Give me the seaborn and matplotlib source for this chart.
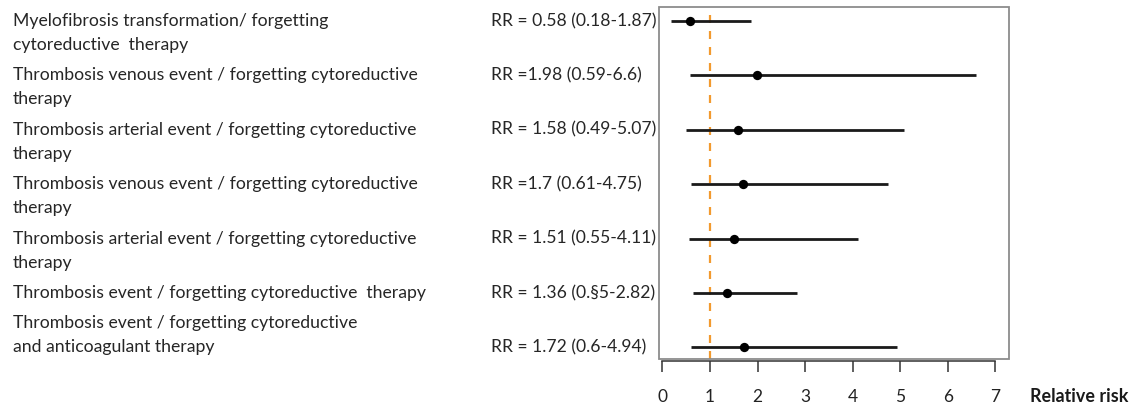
import matplotlib
matplotlib.use("Agg")
import matplotlib.pyplot as plt
import seaborn as sns
import pandas as pd
from matplotlib.patches import Rectangle

# ---------------- data ----------------
outcomes = [
    ["Myelofibrosis transformation/ forgetting", "cytoreductive  therapy"],
    ["Thrombosis venous event / forgetting cytoreductive", "therapy"],
    ["Thrombosis arterial event / forgetting cytoreductive", "therapy"],
    ["Thrombosis venous event / forgetting cytoreductive", "therapy"],
    ["Thrombosis arterial event / forgetting cytoreductive", "therapy"],
    ["Thrombosis event / forgetting cytoreductive  therapy"],
    ["Thrombosis event / forgetting cytoreductive", "and anticoagulant therapy"],
]
# which line of each label sits level with its row
anchor_line = [0, 0, 0, 0, 0, 0, 1]
rr_labels = [
    "RR = 0.58 (0.18-1.87)",
    "RR =1.98 (0.59-6.6)",
    "RR = 1.58 (0.49-5.07)",
    "RR =1.7 (0.61-4.75)",
    "RR = 1.51 (0.55-4.11)",
    "RR = 1.36 (0.\u00a75-2.82)",
    "RR = 1.72 (0.6-4.94)",
]
rr = [0.58, 1.98, 1.58, 1.70, 1.51, 1.36, 1.72]
ci_low = [0.18, 0.59, 0.49, 0.61, 0.55, 0.65, 0.60]
ci_high = [1.87, 6.60, 5.07, 4.75, 4.11, 2.82, 4.94]
x_ticks = [0, 1, 2, 3, 4, 5, 6, 7]
reference_value = 1
x_label = "Relative risk"

df = pd.DataFrame({"row": range(len(rr)), "rr": rr, "lo": ci_low, "hi": ci_high})

# ---------------- style ----------------
sns.set_theme(style="white")
plt.rcParams["font.family"] = ["Lato", "DejaVu Sans"]

W, H = 1133, 409
fig = plt.figure(figsize=(W / 100, H / 100), dpi=100)
ax = fig.add_axes([659 / W, 1 - 358.7 / H, (1009.3 - 659) / W, (358.7 - 6.7) / H])

# confidence intervals and point estimates
ax.hlines(df["row"], df["lo"], df["hi"], color="#1a1a1a", lw=2.0, zorder=3)
sns.scatterplot(data=df, x="rr", y="row", ax=ax, color="black", s=45,
                edgecolor="black", linewidth=0, zorder=4, legend=False)
ax.axvline(reference_value, color="#F29A2E", lw=1.6, ls=(0, (3.6, 3.6)), zorder=2,
           clip_on=False)

ax.set_xlim(-0.07, 7.29)
ax.set_ylim(6.21, -0.263)
ax.set_xlabel("")
ax.set_ylabel("")
ax.set_yticks([])
ax.set_xticks(x_ticks)
ax.set_xticklabels([str(t) for t in x_ticks])

# box frame
for s in ["top", "right", "left"]:
    ax.spines[s].set_visible(False)
ax.add_patch(Rectangle((0, 0), 1, 1, transform=ax.transAxes, fill=False,
                       edgecolor="#8c8c8c", lw=1.3, clip_on=False, zorder=5))
# R-style x axis
ax.spines["bottom"].set_visible(True)
ax.spines["bottom"].set_color("#333333")
ax.spines["bottom"].set_linewidth(1.1)
ax.spines["bottom"].set_position(("outward", 1.5))
ax.spines["bottom"].set_bounds(x_ticks[0], x_ticks[-1])
ax.tick_params(axis="x", direction="out", length=8, width=1.1, color="#333333",
               pad=12, labelsize=12.5, labelcolor="#222222", bottom=True)

# left labels
for i, lines in enumerate(outcomes):
    for k, line in enumerate(lines):
        ax.annotate(line, xy=(13 / W, i), xycoords=("figure fraction", "data"),
                    xytext=(0, -(k - anchor_line[i]) * 24), textcoords="offset pixels",
                    ha="left", va="center", fontsize=12.7, color="#262626",
                    annotation_clip=False)
    ax.annotate(rr_labels[i], xy=(491 / W, i), xycoords=("figure fraction", "data"),
                ha="left", va="center", fontsize=12.6, color="#262626",
                annotation_clip=False)

fig.text(1030 / W, 1 - 396 / H, x_label, ha="left", va="center",
         fontsize=12.9, fontweight="bold", color="#1a1a1a")

fig.savefig("out.png", dpi=100)
